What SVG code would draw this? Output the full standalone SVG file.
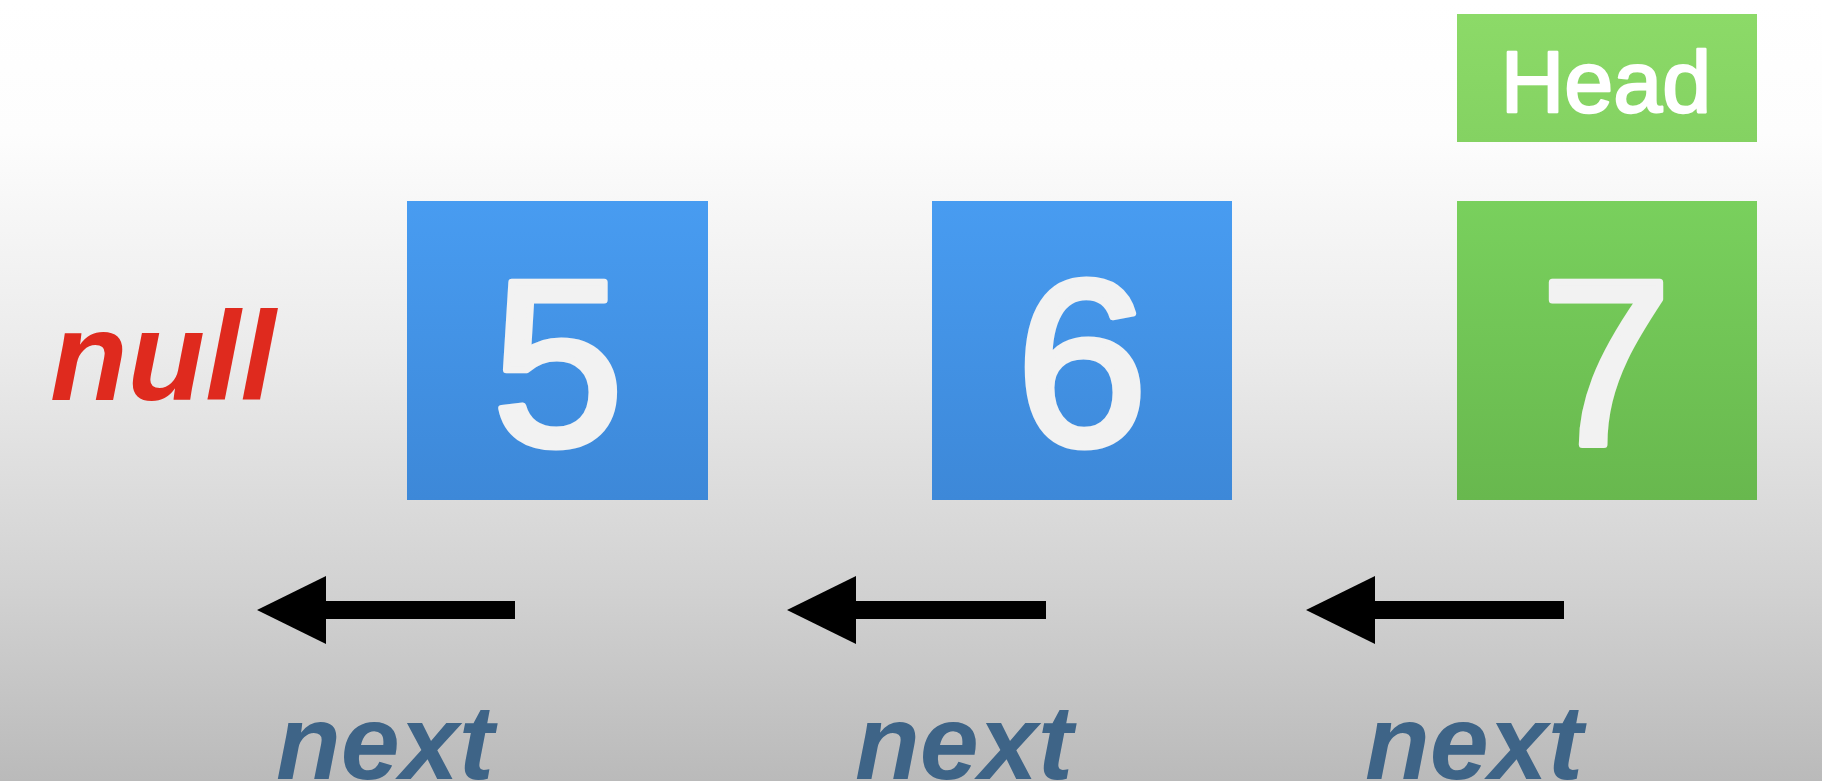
<svg xmlns="http://www.w3.org/2000/svg" width="1822" height="781" viewBox="0 0 1822 781">
  <defs>
    <linearGradient id="bg" x1="0" y1="0" x2="0" y2="781" gradientUnits="userSpaceOnUse">
      <stop offset="0" stop-color="#ffffff"/>
      <stop offset="0.17" stop-color="#fdfdfd"/>
      <stop offset="0.45" stop-color="#ebebeb"/>
      <stop offset="0.75" stop-color="#d2d2d2"/>
      <stop offset="1" stop-color="#bababa"/>
    </linearGradient>
    <linearGradient id="blue" x1="0" y1="0" x2="0" y2="1">
      <stop offset="0" stop-color="#489cf1"/>
      <stop offset="1" stop-color="#3d88d8"/>
    </linearGradient>
    <linearGradient id="green" x1="0" y1="0" x2="0" y2="1">
      <stop offset="0" stop-color="#79d05d"/>
      <stop offset="1" stop-color="#68b84e"/>
    </linearGradient>
    <linearGradient id="lgreen" x1="0" y1="0" x2="0" y2="1">
      <stop offset="0" stop-color="#8cda68"/>
      <stop offset="1" stop-color="#84d262"/>
    </linearGradient>
    <marker id="head" markerUnits="userSpaceOnUse" markerWidth="70" markerHeight="70" viewBox="0 0 70 70" refX="0" refY="34" orient="auto">
      <path d="M0,0 L69,34 L0,68 z" fill="#000"/>
    </marker>
    <style>
      .digit { font-family: "Liberation Sans", Arial, sans-serif; font-size: 236px; fill: #f2f2f2; stroke: #f2f2f2; stroke-width: 7px; stroke-linejoin: round; text-anchor: middle; }
      .next { font-family: "Liberation Sans", Arial, sans-serif; font-size: 106px; font-weight: bold; font-style: italic; fill: #3e6487; }
      .arrow { stroke: #000; stroke-width: 18; fill: none; marker-end: url(#head); }
    </style>
  </defs>
  <rect x="0" y="0" width="1822" height="781" fill="url(#bg)"/>

  <g id="head-label">
    <rect x="1457" y="14" width="300" height="128" fill="url(#lgreen)"/>
    <text x="1606" y="112" font-family="Liberation Sans, Arial, sans-serif" font-size="88" fill="#ffffff" stroke="#ffffff" stroke-width="2.5" stroke-linejoin="round" text-anchor="middle">Head</text>
  </g>

  <g id="null-node">
    <text x="50" y="400" font-family="Liberation Sans, Arial, sans-serif" font-size="127" font-weight="bold" font-style="italic" fill="#df2a1e">null</text>
  </g>

  <g id="node-5">
    <rect x="407" y="201" width="301" height="299" fill="url(#blue)"/>
    <text class="digit" x="558" y="445">5</text>
  </g>
  <g id="node-6">
    <rect x="932" y="201" width="300" height="299" fill="url(#blue)"/>
    <text class="digit" x="1082" y="445">6</text>
  </g>
  <g id="node-7">
    <rect x="1457" y="201" width="300" height="299" fill="url(#green)"/>
    <text class="digit" x="1606" y="445">7</text>
  </g>

  <g id="connectors">
    <line class="arrow" x1="515" y1="610" x2="326" y2="610"/>
    <line class="arrow" x1="1046" y1="610" x2="856" y2="610"/>
    <line class="arrow" x1="1564" y1="610" x2="1375" y2="610"/>
  </g>

  <g id="labels">
    <text class="next" x="276" y="779">next</text>
    <text class="next" x="855" y="779">next</text>
    <text class="next" x="1365" y="779">next</text>
  </g>
</svg>
